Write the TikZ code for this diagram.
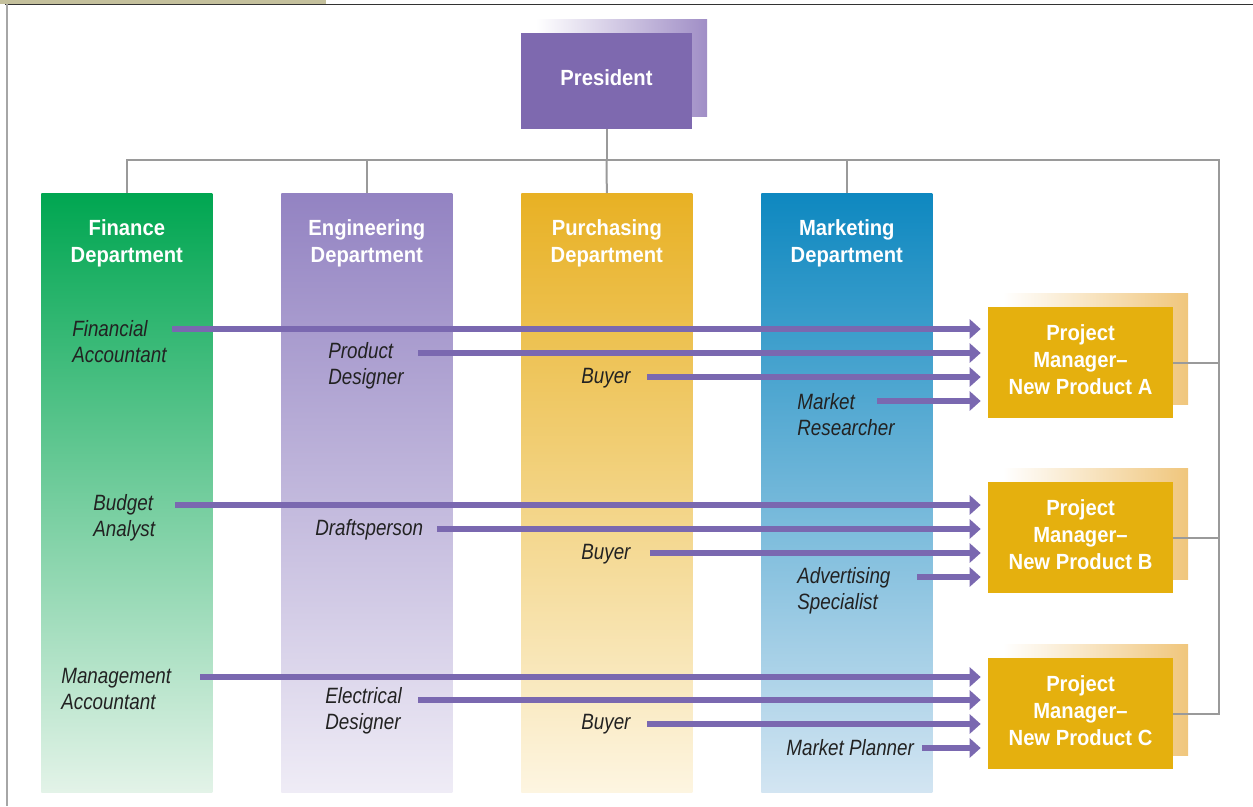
\documentclass[tikz,border=0pt]{standalone}
\usepackage{fontspec}
\setmainfont{Liberation Sans}
\newfontfamily\headfont{Liberation Sans}[FakeStretch=0.92]
\newfontfamily\jobfont{Liberation Sans}[FakeStretch=0.85]
\usetikzlibrary{arrows.meta,positioning}

\definecolor{finTop}{HTML}{00A651}
\definecolor{finBot}{HTML}{E3F3E8}
\definecolor{engTop}{HTML}{9383C2}
\definecolor{engBot}{HTML}{EFECF6}
\definecolor{purTop}{HTML}{E8B124}
\definecolor{purBot}{HTML}{FDF5E1}
\definecolor{mktTop}{HTML}{0E88C0}
\definecolor{mktBot}{HTML}{D3E5F2}
\definecolor{presFront}{HTML}{7E69AF}
\definecolor{presBack}{HTML}{A08EC6}
\definecolor{pmFront}{HTML}{E5B00E}
\definecolor{pmBack}{HTML}{F0C67C}
\definecolor{flowPurple}{HTML}{7A68B0}
\definecolor{connGray}{HTML}{9A9A9A}
\definecolor{jobGray}{HTML}{222222}
\definecolor{frameBeige}{HTML}{C4C09C}

\begin{document}
\begin{tikzpicture}[x=0.02cm,y=-0.02cm,
  dept/.style={anchor=north west, minimum width=3.42cm, minimum height=11.98cm, inner sep=0},
  head/.style={text=white, font=\headfont\bfseries\fontsize{12.5}{15.3}\selectfont, align=center},
  job/.style={text=jobGray, font=\jobfont\itshape\fontsize{12.6}{14.8}\selectfont, align=left, anchor=west, inner sep=0},
  pm/.style={head, fill=pmFront, minimum width=3.7cm, minimum height=2.22cm, text depth=0.12cm},
  conn/.style={draw=connGray, line width=0.04cm},
  flow/.style={draw=flowPurple, line width=0.11cm, -{Triangle[length=0.22cm,width=0.38cm]}, shorten >=0.14cm}]
\useasboundingbox (0,0) rectangle (1253,806);

% frame
\fill[frameBeige] (0,0) rectangle (326,4);
\draw[black!80, line width=0.02cm] (5,4.5) -- (1253,4.5);
\draw[black!35, line width=0.05cm] (7,4) -- (7,806);

% shadows
\shade[left color=white, right color=presBack] (536,19) rectangle (707,116);
\shade[left color=white, right color=pmBack] (1003,293) rectangle (1188,404);
\shade[left color=white, right color=pmBack] (1003,468) rectangle (1188,579);
\shade[left color=white, right color=pmBack] (1003,644) rectangle (1188,755);

% president
\node[head, fill=presFront, minimum width=3.42cm, minimum height=1.92cm, text depth=0.12cm] (pres) at (606.5,81) {President};

% departments
\node[dept, top color=finTop, bottom color=finBot] (fin) at (41,193) {};
\node[dept, top color=engTop, bottom color=engBot] (eng) at (281,193) {};
\node[dept, top color=purTop, bottom color=purBot] (pur) at (521,193) {};
\node[dept, top color=mktTop, bottom color=mktBot] (mkt) at (761,193) {};
\node[head] (finT) at ([yshift=-1cm]fin.north) {Finance\\Department};
\node[head] (engT) at ([yshift=-1cm]eng.north) {Engineering\\Department};
\node[head] (purT) at ([yshift=-1cm]pur.north) {Purchasing\\Department};
\node[head] (mktT) at ([yshift=-1cm]mkt.north) {Marketing\\Department};

% project managers
\node[pm] (pmA) at (1080.5,362.5) {Project\\Manager–\\New Product A};
\node[pm] (pmB) at (1080.5,537.5) {Project\\Manager–\\New Product B};
\node[pm] (pmC) at (1080.5,713.5) {Project\\Manager–\\New Product C};

% reporting lines
\coordinate (bus) at (606.5,160);
\coordinate (rail) at (1219,160);
\draw[conn] (pres.south) -- (bus);
\draw[conn] (fin.north) |- (bus);
\draw[conn] (eng.north) |- (bus);
\draw[conn] (pur.north) -- (bus);
\draw[conn] (mkt.north) |- (bus);
\draw[conn] (bus) -- (rail) -- (rail |- pmC.east) -- (pmC.east);
\draw[conn] (pmA.east) -- (rail |- pmA.east);
\draw[conn] (pmB.east) -- (rail |- pmB.east);

% jobs
\node[job] (fa) at (72,342) {Financial\\Accountant};
\node[job] (pd) at (328,366) {Product\\Designer};
\node[job] (bu1) at (581,378) {Buyer};
\node[job] (mr) at (797,415) {Market\\Researcher};
\node[job] (ba) at (93,518) {Budget\\Analyst};
\node[job] (dp) at (315,530) {Draftsperson};
\node[job] (bu2) at (581,554) {Buyer};
\node[job] (as) at (797,591) {Advertising\\Specialist};
\node[job] (ma) at (61,689) {Management\\Accountant};
\node[job] (ed) at (325,711) {Electrical\\Designer};
\node[job] (bu3) at (581,724) {Buyer};
\node[job] (mp) at (786,748) {Market Planner};

% assignments
\coordinate (fa-out) at (172,329);
\coordinate (pd-out) at (418,353);
\coordinate (bu1-out) at (647,377);
\coordinate (mr-out) at (877,401);
\coordinate (ba-out) at (175,505);
\coordinate (dp-out) at (437,529);
\coordinate (bu2-out) at (650,553);
\coordinate (as-out) at (917,577);
\coordinate (ma-out) at (200,677);
\coordinate (ed-out) at (418,700);
\coordinate (bu3-out) at (647,724);
\coordinate (mp-out) at (922,748);
\draw[flow] (fa-out) -- (fa-out -| pmA.west);
\draw[flow] (pd-out) -- (pd-out -| pmA.west);
\draw[flow] (bu1-out) -- (bu1-out -| pmA.west);
\draw[flow] (mr-out) -- (mr-out -| pmA.west);
\draw[flow] (ba-out) -- (ba-out -| pmB.west);
\draw[flow] (dp-out) -- (dp-out -| pmB.west);
\draw[flow] (bu2-out) -- (bu2-out -| pmB.west);
\draw[flow] (as-out) -- (as-out -| pmB.west);
\draw[flow] (ma-out) -- (ma-out -| pmC.west);
\draw[flow] (ed-out) -- (ed-out -| pmC.west);
\draw[flow] (bu3-out) -- (bu3-out -| pmC.west);
\draw[flow] (mp-out) -- (mp-out -| pmC.west);
\end{tikzpicture}
\end{document}
